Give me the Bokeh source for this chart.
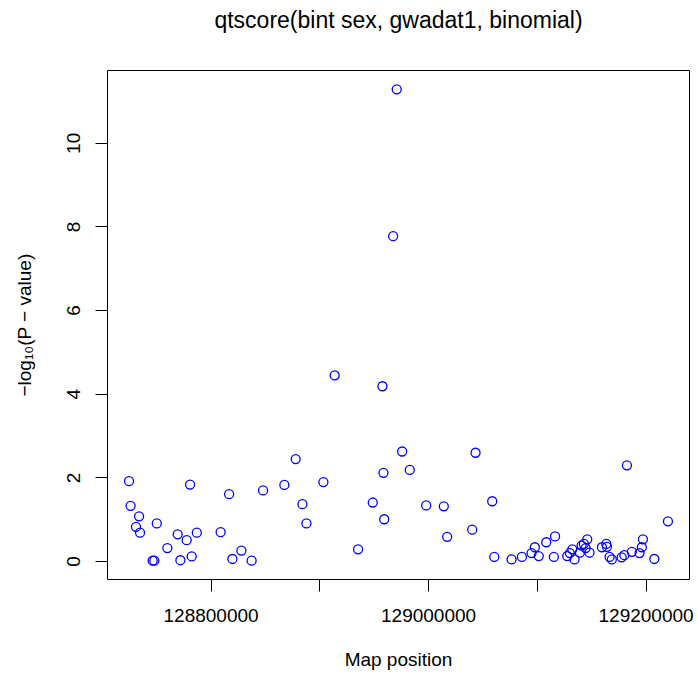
from bokeh.plotting import figure
from bokeh.models import Range1d, FixedTicker, LinearAxis
from bokeh.embed import file_html
from bokeh.resources import INLINE

# Map positions (bp) and -log10(P) values
positions = [
    128724600, 128726000, 128733800, 128731000, 128734700, 128750100,
    128746300, 128747800, 128759800, 128769300, 128777600, 128780700,
    128771800, 128782200, 128786900, 128808800, 128816600, 128819600,
    128827900, 128837300, 128847800, 128867400, 128877800, 128884000,
    128887700, 128903300, 128913700, 128935200, 128948700, 128957600,
    128958500, 128959200, 128967400, 128970700, 128975700, 128982700,
    128997800, 129014000, 129017100, 129043200, 129040100, 129058500,
    129060400, 129076300, 129085800, 129094700, 129097700, 129101300,
    129108200, 129116300, 129115200, 129127500, 129129900, 129132100,
    129134200, 129139100, 129140700, 129142800, 129144400, 129145900,
    129148000, 129159400, 129163400, 129164000, 129166400, 129168500,
    129177500, 129180000, 129182400, 129186900, 129194000, 129196100,
    129197100, 129207600, 129220100,
]
neglog10p = [
    1.92, 1.33, 1.08, 0.83, 0.69, 0.91,
    0.02, 0.02, 0.32, 0.65, 0.51, 1.84,
    0.03, 0.12, 0.69, 0.70, 1.61, 0.06,
    0.26, 0.02, 1.70, 1.83, 2.45, 1.37,
    0.91, 1.90, 4.45, 0.29, 1.41, 4.19,
    2.12, 1.01, 7.78, 11.29, 2.63, 2.19,
    1.34, 1.32, 0.59, 2.60, 0.76, 1.44,
    0.11, 0.05, 0.11, 0.20, 0.34, 0.13,
    0.46, 0.60, 0.11, 0.13, 0.20, 0.29,
    0.05, 0.21, 0.38, 0.42, 0.32, 0.53,
    0.21, 0.34, 0.42, 0.35, 0.11, 0.05,
    0.10, 0.15, 2.30, 0.23, 0.20, 0.34,
    0.53, 0.06, 0.96,
]

x_ticks = [128800000, 128900000, 129000000, 129100000, 129200000]
x_tick_labels = ["128800000", "", "129000000", "", "129200000"]
y_ticks = [0, 2, 4, 6, 8, 10]
y_tick_labels = ["0", "2", "4", "6", "8", "10"]

title_text = "qtscore(bint sex, gwadat1, binomial)"
x_label = "Map position"
y_label = "\u2212log\u2081\u2080(P \u2212 value)"

FONT = "Liberation Sans"

def padded(vals, frac=0.04):
    lo, hi = min(vals), max(vals)
    d = (hi - lo) * frac
    return lo - d, hi + d

xs, xe = padded(positions)
ys, ye = padded(neglog10p)

p = figure(width=698, height=677, output_backend="svg", toolbar_location=None,
           x_range=Range1d(xs, xe), y_range=Range1d(ys, ye),
           min_border_left=107, min_border_right=9, min_border_top=70,
           min_border_bottom=98)

p.background_fill_color = "white"
p.border_fill_color = "white"
p.outline_line_color = "black"
p.outline_line_width = 1
p.grid.visible = False

p.scatter(positions, neglog10p, marker="circle", size=9,
          fill_color=None, line_color="blue", line_width=1.3)

xa = p.below[0]
ya = p.left[0]

for ax in (xa, ya):
    ax.axis_line_color = None
    ax.major_tick_out = 12
    ax.major_tick_in = 0
    ax.minor_tick_line_color = None
    ax.major_tick_line_color = "black"
    ax.major_label_text_font = FONT
    ax.major_label_text_font_size = "19px"
    ax.major_label_text_color = "black"
    ax.axis_label_text_font = FONT
    ax.axis_label_text_font_size = "19px"
    ax.axis_label_text_font_style = "normal"
    ax.axis_label_text_color = "black"

xa.ticker = FixedTicker(ticks=x_ticks)
xa.major_label_overrides = {t: l for t, l in zip(x_ticks, x_tick_labels)}
xa.major_label_standoff = 17
xa.axis_label = x_label
xa.axis_label_standoff = 24

ya.ticker = FixedTicker(ticks=y_ticks)
ya.major_label_overrides = {t: l for t, l in zip(y_ticks, y_tick_labels)}
ya.major_label_orientation = "vertical"
ya.major_label_standoff = 15
ya.axis_label = y_label
ya.axis_label_standoff = 30

# main title, drawn as the label of a bare axis above the frame
top = LinearAxis(ticker=FixedTicker(ticks=[]), axis_line_color=None,
                 major_tick_out=0, major_tick_in=0,
                 minor_tick_out=0, minor_tick_in=0,
                 major_label_standoff=0,
                 axis_label=title_text, axis_label_standoff=38,
                 axis_label_text_font=FONT, axis_label_text_font_size="23px",
                 axis_label_text_font_style="normal",
                 axis_label_text_color="black")
p.add_layout(top, "above")

open("out.html", "w").write(file_html(p, INLINE))
